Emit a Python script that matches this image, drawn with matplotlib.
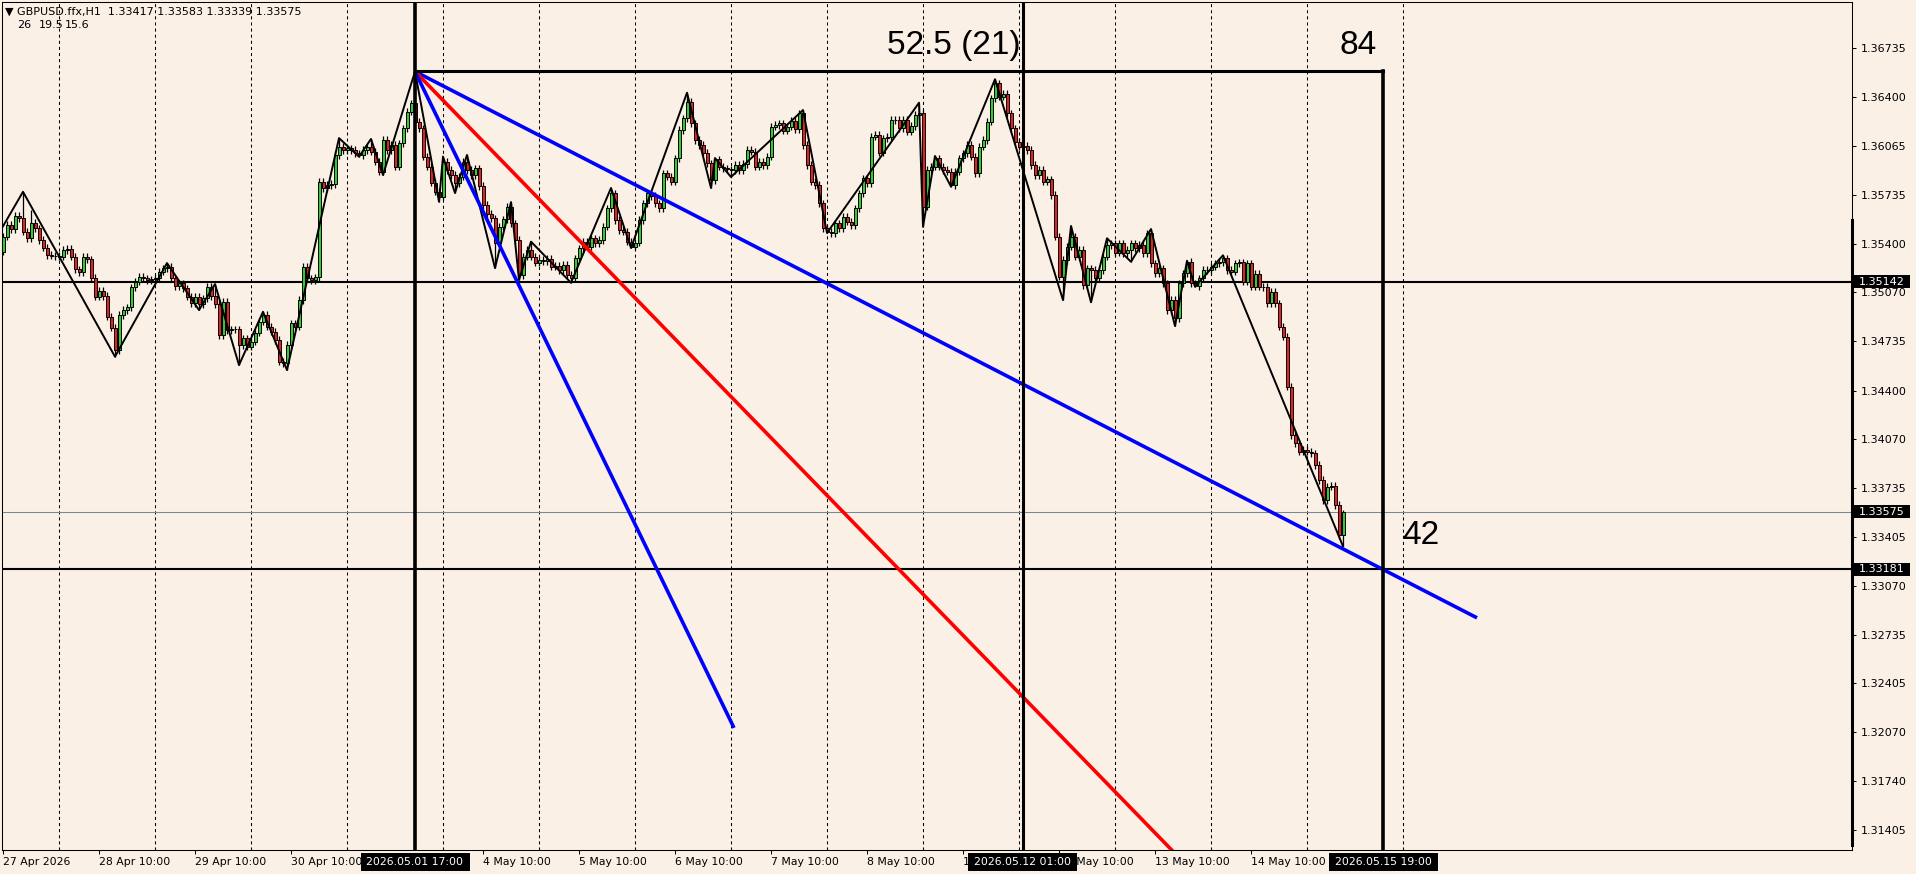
import numpy as np
import matplotlib
matplotlib.use("Agg")
import matplotlib.pyplot as plt
from matplotlib.patches import Rectangle
from matplotlib.lines import Line2D

plt.rcParams['lines.scale_dashes'] = False
plt.rcParams['font.family'] = ['DejaVu Sans']

W, H = 1916, 874

# bar index = trading hours since 27 Apr 2026 00:00 (weekend skipped)
first_bar = 10
first_open = 1.35347
# H1 closes in points (price * 1e5)
close_pts = [
    135449, 135529, 135499, 135590, 135574, 135484, 135438, 135545, 135506, 135427, 135374, 135324, 135320, 135318,
    135313, 135359, 135365, 135313, 135227, 135209, 135313, 135295, 135170, 135040, 135081, 135045,
    134904, 134829, 134677, 134916, 134950, 134968, 135104, 135143, 135177, 135165, 135154, 135159,
    135165, 135211, 135234, 135245, 135165, 135113, 135131, 135097, 135040, 134995, 135040, 134990,
    135029, 135109, 135045, 134990, 134779, 135006, 134813, 134818, 134818, 134711, 134756, 134700,
    134734, 134795, 134870, 134916, 134836, 134802, 134745, 134597, 134586, 134711, 134859, 134836,
    135018, 135245, 135165, 135154, 135172, 135824, 135779, 135802, 135808, 136006, 136063, 136040,
    136051, 136040, 136017, 136006, 136040, 136058, 136028, 135960, 135892, 136108, 136040, 136074,
    135926, 136085, 136187, 136301, 136358, 136233, 136187, 135994, 135926, 135817, 135756, 135722,
    135960, 135903, 135869, 135812, 135858, 135960, 135903, 135869, 135915, 135794, 135665, 135603,
    135574, 135408, 135517, 135567, 135653, 135540, 135426, 135188, 135313, 135358, 135313, 135272,
    135290, 135281, 135299, 135244, 135249, 135222, 135256, 135188, 135165, 135301, 135369, 135415,
    135381, 135437, 135403, 135426, 135517, 135642, 135744, 135562, 135494, 135483, 135415, 135381,
    135408, 135562, 135676, 135744, 135726, 135676, 135642, 135881, 135858, 135824, 135983, 136176,
    136256, 136369, 136222, 136108, 136074, 136022, 135949, 135835, 135976, 135926, 135915, 135908,
    135903, 135938, 135903, 135944, 136040, 136028, 135926, 135960, 135938, 135994, 136199, 136210,
    136222, 136171, 136199, 136240, 136181, 136290, 136074, 135938, 135824, 135801, 135676, 135506,
    135483, 135472, 135540, 135506, 135585, 135551, 135529, 135642, 135744, 135847, 135813, 136131,
    136142, 136022, 136119, 136131, 136244, 136244, 136187, 136244, 136165, 136203, 136278, 136290,
    135654, 135903, 135926, 135983, 135926, 135903, 135892, 135801, 135892, 135983, 136017, 136074,
    135994, 135881, 136062, 136108, 136233, 136392, 136494, 136403, 136421, 136290, 136187, 136097,
    136062, 136067, 136040, 135938, 135869, 135903, 135824, 135840, 135733, 135449, 135176, 135290,
    135381, 135449, 135313, 135358, 135120, 135233, 135222, 135165, 135222, 135313, 135392, 135404,
    135340, 135404, 135335, 135358, 135404, 135370, 135392, 135335, 135472, 135267, 135199, 135233,
    135131, 134949, 135017, 134892, 135131, 135199, 135279, 135131, 135113, 135165, 135222, 135222,
    135245, 135267, 135276, 135301, 135222, 135210, 135267, 135274, 135142, 135267, 135108, 135195,
    135108, 135106, 134995, 135074, 134995, 134836, 134767, 134427, 134097, 134040, 133984, 133995,
    133984, 133972, 133893, 133790, 133654, 133745, 133750, 133620, 133416, 133575,
]
last_ohlc = (1.33417, 1.33583, 1.33339, 1.33575)
extra_high = {17: 135631}

# zigzag pivots (bar, price in points)
zz_bars = [8, 15, 38, 51, 59, 63, 69, 75, 81, 94, 99, 102, 105, 113, 119, 120, 123, 126, 133,
           137, 139, 142, 152, 162, 167, 181, 187, 188, 192, 210, 216, 239, 240, 243, 247, 258,
           275, 277, 282, 286, 292, 297, 303, 306, 308, 315, 345]
zz_pts = [135426, 135755, 134631, 135269, 134949, 135126, 134574, 134937, 134540, 136121, 135994,
          136115, 135869, 136575, 135687, 135995, 135747, 136006, 135235, 135685, 135154, 135415,
          135135, 135781, 135372, 136430, 135781, 135985, 135856, 136312, 135474, 136362, 135517,
          135999, 135790, 136522, 135017, 135522, 135002, 135438, 135278, 135501, 134840, 135285,
          135108, 135322, 133339]

hlines = [1.35142, 1.33181]
bid = 1.33575
top_price = 1.36575
vline_bars = [113, 265, 355]
vline_labels = ['2026.05.01 17:00', '2026.05.12 01:00', '2026.05.15 19:00']
fan_end_bars = [378.5, 330, 192.75]
fan_end_prices = [1.32851, 1.30488, 1.32101]
fan_colors = ['#0000FF', '#FF0000', '#0000FF']

price_ticks = [1.36735, 1.36400, 1.36065, 1.35735, 1.35400, 1.35070, 1.34735, 1.34400, 1.34070,
               1.33735, 1.33405, 1.33070, 1.32735, 1.32405, 1.32070, 1.31740, 1.31405]
tick_bars = [10, 34, 58, 82, 130, 154, 178, 202, 226, 250, 274, 298, 322]
tick_labels = ['27 Apr 2026', '28 Apr 10:00', '29 Apr 10:00', '30 Apr 10:00',
               '4 May 10:00', '5 May 10:00', '6 May 10:00', '7 May 10:00', '8 May 10:00',
               '11 May 10:00', '12 May 10:00', '13 May 10:00', '14 May 10:00']

# build OHLC
closes = np.array(close_pts) / 1e5
n = len(closes)
bars = np.arange(first_bar, first_bar + n)
opens = np.r_[first_open, closes[:-1]]
opens[-1] = last_ohlc[0]
wick = 0.00025
highs = np.maximum(opens, closes) + wick
lows = np.minimum(opens, closes) - wick
highs[-1], lows[-1] = last_ohlc[1], last_ohlc[2]
for b, p in zip(zz_bars, zz_pts):
    i = b - first_bar
    if 0 <= i < n:
        if p / 1e5 > closes[i]:
            highs[i] = p / 1e5
        else:
            lows[i] = p / 1e5
for b, p in extra_high.items():
    highs[b - first_bar] = p / 1e5

bg = '#FAF0E6'
fig = plt.figure(figsize=(W / 100, H / 100), dpi=100, facecolor=bg)
ax = fig.add_axes([2 / W, 24 / H, 1850 / W, 848 / H], facecolor=bg)
x0, x1 = 9.75, 472.25
y0, y1 = 1.312687, 1.370485
ax.set_xlim(x0, x1)
ax.set_ylim(y0, y1)

# day separators
for d in range(1, 16):
    ax.axvline(24 * d, color='black', lw=0.75, ls=(0, (2.2, 2.2)), zorder=1)

for p in hlines:
    ax.axhline(p, color='black', lw=1.5, zorder=2)
ax.axhline(bid, color='#778899', lw=0.75, zorder=2)

# candles
ax.vlines(bars, lows, highs, color='black', lw=0.9, zorder=3)
bottoms = np.minimum(opens, closes)
heights = np.maximum(np.abs(closes - opens), 0.000006)
colors = np.where(closes >= opens, '#32CD32', '#E52020')
ax.bar(bars, heights, bottom=bottoms, width=0.75, color=colors, edgecolor='black',
       linewidth=0.7, zorder=4)

# zigzag
ax.plot(zz_bars, np.array(zz_pts) / 1e5, color='black', lw=1.4, zorder=5)

# fan
for xb, pe, c in zip(fan_end_bars, fan_end_prices, fan_colors):
    ax.plot([vline_bars[0], xb], [top_price, pe], color=c, lw=2.6, zorder=7,
            solid_capstyle='butt')

# cycle lines
ax.plot([vline_bars[0], vline_bars[2]], [top_price, top_price], color='black', lw=2.2, zorder=8)
ax.axvline(vline_bars[0], color='black', lw=2.6, zorder=8)
ax.axvline(vline_bars[1], color='black', lw=2.2, zorder=8)
ax.plot([vline_bars[2], vline_bars[2]], [top_price, y0], color='black', lw=2.6, zorder=8)

big = dict(fontsize=24, family='Liberation Sans', va='center', zorder=9)
ax.text(264.3, 1.36755, '52.5 (21)', ha='right', **big)
ax.text(353.5, 1.36755, '84', ha='right', **big)
ax.text(359.75, 1.33415, '42', ha='left', **big)

for s in ax.spines.values():
    s.set_color('black')
    s.set_linewidth(0.75)

ax.yaxis.tick_right()
ax.set_yticks(price_ticks)
ax.set_yticklabels(['%.5f' % p for p in price_ticks])
ax.tick_params(axis='y', length=3, width=0.75, pad=3, labelsize=8, direction='out')
ax.set_xticks(tick_bars)
ax.set_xticklabels(tick_labels)
for t in ax.get_xticklabels():
    t.set_horizontalalignment('left')
ax.tick_params(axis='x', length=3, width=0.75, pad=2, labelsize=7.8, direction='out')


def px_x(b):
    return 2 + (b - x0) / (x1 - x0) * 1850


def px_y(p):
    return 2 + (y1 - p) / (y1 - y0) * 848


# thick part of the price scale border
fig.add_artist(Line2D([1852 / W, 1852 / W], [1 - 220 / H, 1 - 845 / H], color='black',
                      lw=2.2, transform=fig.transFigure, zorder=9))

# price boxes
for p in hlines + [bid]:
    py = px_y(p)
    fig.add_artist(Rectangle((1853 / W, 1 - (py + 6.5) / H), 57 / W, 13 / H, fc='black',
                             ec='none', transform=fig.transFigure, zorder=10))
    fig.text(1859 / W, 1 - py / H, '%.5f' % p, color='white', fontsize=8, va='center',
             ha='left', zorder=11)

# time boxes
for b, lab in zip(vline_bars, vline_labels):
    px = px_x(b)
    fig.add_artist(Rectangle(((px - 54.5) / W, 1 - 871 / H), 109 / W, 18 / H, fc='black',
                             ec='none', transform=fig.transFigure, zorder=10))
    fig.text(px / W, 1 - 862 / H, lab, color='white', fontsize=7.8, va='center', ha='center',
             zorder=11)

# header
fig.text(5 / W, 1 - 12 / H, '\u25bc GBPUSD.ffx,H1  1.33417 1.33583 1.33339 1.33575',
         fontsize=8, va='center', ha='left', zorder=11)
for xx, s in zip([17, 39, 65], ['26', '19.5', '15.6']):
    fig.text(xx / W, 1 - 25 / H, s, fontsize=8, va='center', ha='left', zorder=11)

fig.savefig('out.png', dpi=100, facecolor=bg)
